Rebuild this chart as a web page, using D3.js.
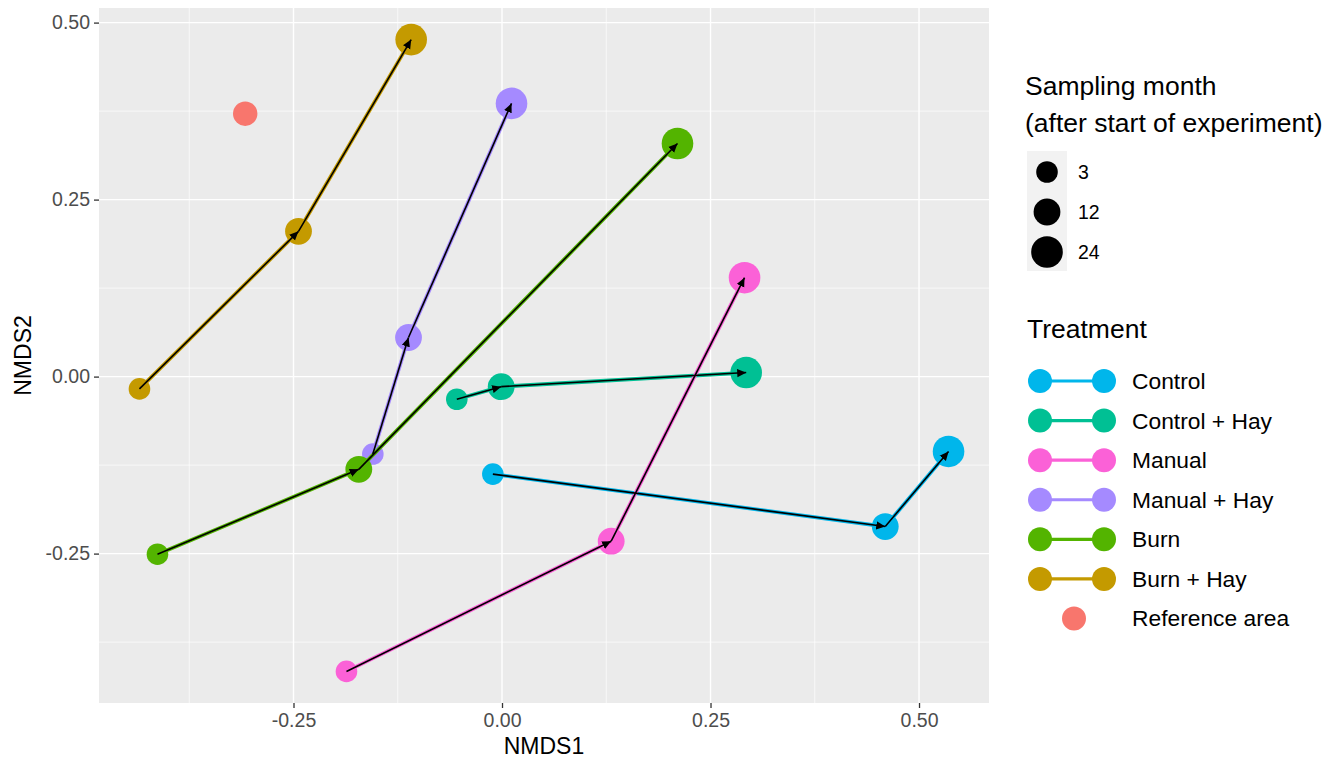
<!DOCTYPE html>
<html>
<head>
<meta charset="utf-8">
<script src="https://cdn.jsdelivr.net/npm/d3@7"></script>
<style>
  html, body { margin: 0; padding: 0; background: #fff; }
  svg { display: block; font-family: "Liberation Sans", Arial, sans-serif; }
</style>
</head>
<body>
<svg id="chart" width="1338" height="766"></svg>
<script>
// ---- data ----
const treatments = ["Control", "Control + Hay", "Manual", "Manual + Hay", "Burn", "Burn + Hay"];
const treatmentColors = ["#00B6EB", "#00C094", "#FB61D7", "#A58AFF", "#53B400", "#C49A00"];
const months = [3, 12, 24];

const nmds1Control      = [-0.0110, 0.4595, 0.5354];
const nmds2Control      = [-0.1377, -0.2118, -0.1057];
const nmds1ControlHay   = [-0.0542, -0.0010, 0.2928];
const nmds2ControlHay   = [-0.0320, -0.0142, 0.0057];
const nmds1Manual       = [-0.1865, 0.1309, 0.2908];
const nmds2Manual       = [-0.4164, -0.2325, 0.1397];
const nmds1ManualHay    = [-0.1549, -0.1121, 0.0114];
const nmds2ManualHay    = [-0.1094, 0.0552, 0.3859];
const nmds1Burn         = [-0.4131, -0.1717, 0.2104];
const nmds2Burn         = [-0.2509, -0.1310, 0.3293];
const nmds1BurnHay      = [-0.4347, -0.2440, -0.1089];
const nmds2BurnHay      = [-0.0174, 0.2052, 0.4760];

const referenceLabel = "Reference area";
const referenceColor = "#F8766D";
const nmds1Reference = [-0.3079];
const nmds2Reference = [0.3713];

const xTicks = [-0.25, 0, 0.25, 0.50];
const yTicks = [-0.25, 0, 0.25, 0.50];

const nmds1ByTreatment = [nmds1Control, nmds1ControlHay, nmds1Manual, nmds1ManualHay, nmds1Burn, nmds1BurnHay];
const nmds2ByTreatment = [nmds2Control, nmds2ControlHay, nmds2Manual, nmds2ManualHay, nmds2Burn, nmds2BurnHay];

// build records
const records = [];
treatments.forEach((t, i) => {
  months.forEach((m, j) => {
    records.push({ treatment: t, month: m, x: nmds1ByTreatment[i][j], y: nmds2ByTreatment[i][j], color: treatmentColors[i] });
  });
});

// ---- layout ----
const svg = d3.select("#chart");
const panel = { left: 99, top: 8, right: 989, bottom: 703 };

const allX = records.map(d => d.x).concat(nmds1Reference);
const allY = records.map(d => d.y).concat(nmds2Reference);
function expand(ext) { const w = ext[1] - ext[0]; return [ext[0] - 0.05 * w, ext[1] + 0.05 * w]; }

const x = d3.scaleLinear().domain(expand(d3.extent(allX))).range([panel.left, panel.right]);
const y = d3.scaleLinear().domain(expand(d3.extent(allY))).range([panel.bottom, panel.top]);
const size = d3.scaleOrdinal().domain(months).range([10.8, 13.4, 15.8]);
const color = d3.scaleOrdinal().domain(treatments).range(treatmentColors);

// panel background
svg.append("rect")
  .attr("x", panel.left).attr("y", panel.top)
  .attr("width", panel.right - panel.left).attr("height", panel.bottom - panel.top)
  .attr("fill", "#EBEBEB");

// minor gridlines
const xMinor = xTicks.slice(0, -1).map((v, i) => (v + xTicks[i + 1]) / 2);
xMinor.unshift(xTicks[0] - 0.125); xMinor.push(xTicks[xTicks.length - 1] - 0.125 + 0.25);
const yMinor = yTicks.slice(0, -1).map((v, i) => (v + yTicks[i + 1]) / 2);
yMinor.unshift(yTicks[0] - 0.125);
const g = svg.append("g");
g.selectAll(".xminor").data(xMinor.filter(v => x(v) > panel.left && x(v) < panel.right)).enter().append("line")
  .attr("x1", d => x(d)).attr("x2", d => x(d)).attr("y1", panel.top).attr("y2", panel.bottom)
  .attr("stroke", "#fff").attr("stroke-width", 0.7);
g.selectAll(".yminor").data(yMinor.filter(v => y(v) > panel.top && y(v) < panel.bottom)).enter().append("line")
  .attr("y1", d => y(d)).attr("y2", d => y(d)).attr("x1", panel.left).attr("x2", panel.right)
  .attr("stroke", "#fff").attr("stroke-width", 0.7);
// major gridlines
g.selectAll(".xmajor").data(xTicks).enter().append("line")
  .attr("x1", d => x(d)).attr("x2", d => x(d)).attr("y1", panel.top).attr("y2", panel.bottom)
  .attr("stroke", "#fff").attr("stroke-width", 1.4);
g.selectAll(".ymajor").data(yTicks).enter().append("line")
  .attr("y1", d => y(d)).attr("y2", d => y(d)).attr("x1", panel.left).attr("x2", panel.right)
  .attr("stroke", "#fff").attr("stroke-width", 1.4);

// axes
const locale = d3.formatLocale({ decimal: ".", thousands: ",", grouping: [3], currency: ["", ""], minus: "-" });
const fmt = locale.format(".2f");
const xAxis = svg.append("g").attr("transform", `translate(0,${panel.bottom})`)
  .call(d3.axisBottom(x).tickValues(xTicks).tickFormat(fmt).tickSize(5).tickPadding(5));
const yAxis = svg.append("g").attr("transform", `translate(${panel.left},0)`)
  .call(d3.axisLeft(y).tickValues(yTicks).tickFormat(fmt).tickSize(5).tickPadding(4));
[xAxis, yAxis].forEach(a => {
  a.select(".domain").remove();
  a.selectAll(".tick line").attr("stroke", "#333").attr("stroke-width", 1.3);
  a.selectAll(".tick text").attr("fill", "#4D4D4D").style("font-size", "19.5px")
    .style("font-family", "'Liberation Sans', Arial, sans-serif");
});
xAxis.selectAll(".tick text").attr("dy", "0.7em");

// axis titles
svg.append("text").attr("x", (panel.left + panel.right) / 2).attr("y", 754)
  .attr("text-anchor", "middle").style("font-size", "23px").attr("fill", "#000").text("NMDS1");
svg.append("text").attr("transform", `translate(31,${(panel.top + panel.bottom) / 2}) rotate(-90)`)
  .attr("text-anchor", "middle").style("font-size", "23px").attr("fill", "#000").text("NMDS2");

// arrow marker
svg.append("defs").append("marker")
  .attr("id", "arrow").attr("viewBox", "0 -5 10 10")
  .attr("refX", 10).attr("refY", 0)
  .attr("markerUnits", "userSpaceOnUse")
  .attr("markerWidth", 9).attr("markerHeight", 9)
  .attr("orient", "auto")
  .append("path").attr("d", "M0,-4.6L10,0L0,4.6Z").attr("fill", "#000");

// points
const pts = svg.append("g");
pts.selectAll("circle.ref").data(nmds1Reference.map((v, i) => ({ x: v, y: nmds2Reference[i] }))).enter()
  .append("circle").attr("cx", d => x(d.x)).attr("cy", d => y(d.y)).attr("r", 12.2).attr("fill", referenceColor);
pts.selectAll("circle.trt").data(records).enter().append("circle")
  .attr("cx", d => x(d.x)).attr("cy", d => y(d.y)).attr("r", d => size(d.month)).attr("fill", d => color(d.treatment));

// colored paths
const line = d3.line().x(d => x(d.x)).y(d => y(d.y));
treatments.forEach(t => {
  const grp = records.filter(d => d.treatment === t);
  svg.append("path").attr("d", line(grp)).attr("fill", "none")
    .attr("stroke", color(t)).attr("stroke-width", 3.8).attr("stroke-linejoin", "round");
});
// black arrows
treatments.forEach(t => {
  const grp = records.filter(d => d.treatment === t);
  for (let i = 0; i < grp.length - 1; i++) {
    svg.append("path").attr("d", line([grp[i], grp[i + 1]])).attr("fill", "none")
      .attr("stroke", "#000").attr("stroke-width", 1.6).attr("marker-end", "url(#arrow)");
  }
});

// ---- legends ----
const lg = svg.append("g");
lg.append("text").attr("x", 1025).attr("y", 95).style("font-size", "26.5px").text("Sampling month");
lg.append("text").attr("x", 1025).attr("y", 132).style("font-size", "26.5px").text("(after start of experiment)");
lg.append("rect").attr("x", 1027).attr("y", 151).attr("width", 40).attr("height", 120).attr("fill", "#F2F2F2");
const sizeKeyY = d3.scalePoint().domain(months).range([172, 252]);
lg.selectAll("circle.size").data(months).enter().append("circle")
  .attr("cx", 1047).attr("cy", d => sizeKeyY(d)).attr("r", d => size(d)).attr("fill", "#000");
lg.selectAll("text.size").data(months).enter().append("text")
  .attr("x", 1078).attr("y", d => sizeKeyY(d)).attr("dy", "0.35em").style("font-size", "19.5px").text(d => d);

lg.append("text").attr("x", 1027).attr("y", 338).style("font-size", "26.5px").text("Treatment");
const trtKeys = treatments.concat([referenceLabel]);
const trtKeyY = d3.scalePoint().domain(trtKeys).range([381, 618.5]);
treatments.forEach(t => {
  const cy = trtKeyY(t);
  lg.append("line").attr("x1", 1040).attr("x2", 1104).attr("y1", cy).attr("y2", cy)
    .attr("stroke", color(t)).attr("stroke-width", 3.2);
  lg.append("circle").attr("cx", 1040).attr("cy", cy).attr("r", 12).attr("fill", color(t));
  lg.append("circle").attr("cx", 1104).attr("cy", cy).attr("r", 12).attr("fill", color(t));
});
lg.append("circle").attr("cx", 1074).attr("cy", trtKeyY(referenceLabel)).attr("r", 12).attr("fill", referenceColor);
lg.selectAll("text.trt").data(trtKeys).enter().append("text")
  .attr("x", 1132).attr("y", d => trtKeyY(d)).attr("dy", "0.35em").style("font-size", "22.8px").text(d => d);
</script>
</body>
</html>
